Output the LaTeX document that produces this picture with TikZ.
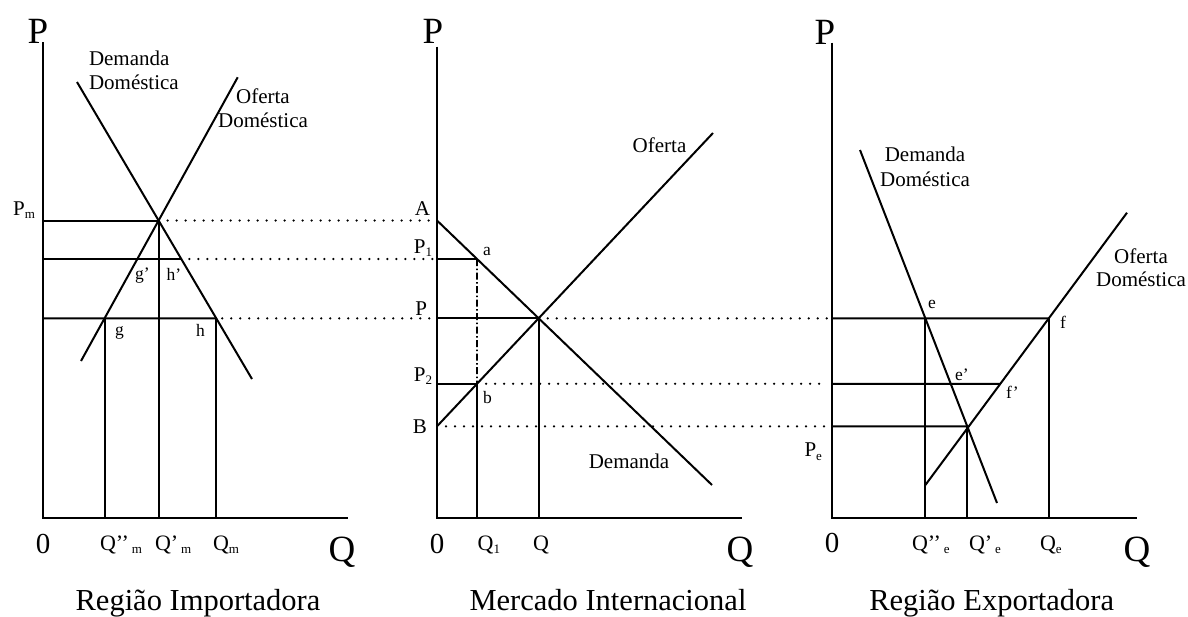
\documentclass[tikz,border=0pt]{standalone}
\usepackage{fontspec}
\setmainfont{Liberation Serif}
\newcommand\fBig{\fontsize{37}{37}\selectfont}
\newcommand\fZero{\fontsize{29}{29}\selectfont}
\newcommand\fTick{\fontsize{22}{22}\selectfont}
\newcommand\fAx{\fontsize{21}{21}\selectfont}
\newcommand\fSub{\fontsize{13}{13}\selectfont}
\newcommand\fPt{\fontsize{17.5}{17.5}\selectfont}
\newcommand\fCrv{\fontsize{21}{21}\selectfont}
\newcommand\fTitle{\fontsize{30.5}{30.5}\selectfont}
\newcommand\lowsub[1]{\raisebox{-3.5pt}{\fSub #1}}
\begin{document}
\begin{tikzpicture}[x=1pt,y=-1pt,
  ax/.style={line width=2pt},
  crv/.style={line width=2pt},
  guide/.style={line width=2pt},
  dots/.style={line width=2.5pt, line cap=round, dash pattern=on 0pt off 9pt},
  dashdot/.style={line width=1.6pt, dash pattern=on 7pt off 2.5pt on 1.5pt off 2.5pt},
  lbl/.style={inner sep=0pt, outer sep=0pt},
]
\useasboundingbox[fill=white] (0,0) rectangle (1188,616);

% ---------------- left panel: Regiao Importadora
\coordinate (O1) at (42.5,517.5);
\coordinate (T1) at (42.5,42);
\coordinate (X1) at (348,517.5);
\coordinate (d1a) at (77,82);
\coordinate (d1b) at (252,379);
\coordinate (s1a) at (237.7,77.3);
\coordinate (s1b) at (81,361);
\coordinate (E1) at (intersection of d1a--d1b and s1a--s1b);

% ---------------- middle panel: Mercado Internacional
\coordinate (O2) at (437,517.5);
\coordinate (T2) at (437,46.5);
\coordinate (X2) at (742,517.5);
\coordinate (A) at (O2 |- E1);
\coordinate (d2b) at (712,485);
% right panel curves (needed for B)
\coordinate (d3a) at (860,150);
\coordinate (d3b) at (997,503);
\coordinate (s3a) at (1127,212.7);
\coordinate (s3bt) at (923.3,485);
\coordinate (E3t) at (intersection of d3a--d3b and s3a--s3bt);
\coordinate (B) at (O2 |- E3t);
\coordinate (s2b) at (713,133);
\coordinate (E2) at (intersection of A--d2b and B--s2b);
\coordinate (L2a) at (0,259);
\coordinate (L2b) at (437,259);
\coordinate (a) at (intersection of A--d2b and L2a--L2b);
\coordinate (aB) at (a |- O2);
\coordinate (b) at (intersection of B--s2b and a--aB);

% left levels
\coordinate (L3a) at (O1 |- E2);
\coordinate (hp) at (intersection of d1a--d1b and L2a--L2b);
\coordinate (gp) at (intersection of s1a--s1b and L2a--L2b);
\coordinate (h) at (intersection of d1a--d1b and L3a--E2);
\coordinate (g) at (intersection of s1a--s1b and L3a--E2);

% right panel
\coordinate (O3) at (832,517.5);
\coordinate (T3) at (832,42.5);
\coordinate (X3) at (1137,517.5);
\coordinate (RP) at (O3 |- E2);
\coordinate (e) at (intersection of d3a--d3b and E2--RP);
\coordinate (s3b) at (e |- s3bt);
\coordinate (f) at (intersection of s3a--s3b and E2--RP);
\coordinate (RB2) at (O3 |- b);
\coordinate (fp) at (intersection of s3a--s3b and b--RB2);
\coordinate (RB) at (O3 |- B);
\coordinate (E3) at (intersection of d3a--d3b and B--RB);

% ---- axes
\draw[ax] (T1) -- (O1) -- (X1);
\draw[ax] (T2) -- (O2) -- (X2);
\draw[ax] (T3) -- (O3) -- (X3);

% ---- left panel lines
\draw[crv] (d1a) -- (d1b);
\draw[crv] (s1a) -- (s1b);
\draw[guide] (O1 |- E1) -- (E1);
\draw[guide] (O1 |- hp) -- (hp);
\draw[guide] (L3a) -- (h);
\draw[guide] (g) -- (g |- O1);
\draw[guide] (E1) -- (E1 |- O1);
\draw[guide] (h) -- (h |- O1);

% ---- middle panel lines
\draw[crv] (A) -- (d2b);
\draw[crv] (B) -- (s2b);
\draw[guide] (O2 |- a) -- (a);
\draw[guide] (O2 |- E2) -- (E2);
\draw[guide] (O2 |- b) -- (b);
\draw[dashdot] (a) -- (b);
\draw[guide] (b) -- (b |- O2);
\draw[guide] (E2) -- (E2 |- O2);

% ---- right panel lines
\draw[crv] (d3a) -- (d3b);
\draw[crv] (s3a) -- (s3b);
\draw[guide] (RP) -- (f);
\draw[guide] (RB2) -- (fp);
\draw[guide] (RB) -- (E3);
\draw[guide] (e) -- (e |- O3);
\draw[guide] (E3) -- (E3 |- O3);
\draw[guide] (f) -- (f |- O3);

% ---- dotted links
\draw[dots] ([xshift=9pt]E1) -- ([xshift=-4pt]A);
\draw[dots] ([xshift=8pt]hp) -- ([xshift=-4pt]O2 |- a);
\draw[dots] ([xshift=6pt]h) -- ([xshift=-4pt]O2 |- E2);
\draw[dots] ([xshift=9pt]E2) -- ([xshift=-4pt]RP);
\draw[dots] ([xshift=9pt]b) -- ([xshift=-4pt]RB2);
\draw[dots] ([xshift=9pt]B) -- ([xshift=-4pt]RB);

% ---- axis titles
\node[lbl, anchor=base] (P1ax) at (38,43) {\fBig P};
\node[lbl, anchor=base] (P2ax) at (433,43) {\fBig P};
\node[lbl, anchor=base] (P3ax) at (825,44) {\fBig P};
\node[lbl, anchor=base] (Q1ax) at (342,561) {\fBig Q};
\node[lbl, anchor=base] (Q2ax) at (740,561) {\fBig Q};
\node[lbl, anchor=base] (Q3ax) at (1137,561) {\fBig Q};
\node[lbl, anchor=base] (Z1) at (43,553) {\fZero 0};
\node[lbl, anchor=base] (Z2) at (437,553) {\fZero 0};
\node[lbl, anchor=base] (Z3) at (832,552) {\fZero 0};

% ---- quantity ticks
\node[lbl, anchor=base west] (tQmpp) at (100,550) {\fTick Q’’\hspace{3pt}\lowsub{m}};
\node[lbl, anchor=base west] (tQmp) at (155,550) {\fTick Q’\hspace{3pt}\lowsub{m}};
\node[lbl, anchor=base west] (tQm) at (213,550) {\fTick Q\lowsub{m}};
\node[lbl, anchor=base west] (tQ1) at (477.7,550) {\fTick Q\lowsub{1}};
\node[lbl, anchor=base] (tQ) at (541,550) {\fTick Q};
\node[lbl, anchor=base west] (tQepp) at (912,550) {\fTick Q’’\hspace{3pt}\lowsub{e}};
\node[lbl, anchor=base west] (tQep) at (969,550) {\fTick Q’\hspace{3pt}\lowsub{e}};
\node[lbl, anchor=base west] (tQe) at (1040,550) {\fTick Q\lowsub{e}};

% ---- price ticks
\node[lbl, anchor=base east] (tPm) at (35,215) {\fAx P\lowsub{m}};
\node[lbl, anchor=base east] (tA) at (430,215) {\fAx A};
\node[lbl, anchor=base east] (tP1) at (432,253) {\fAx P\lowsub{1}};
\node[lbl, anchor=base east] (tP) at (427,315) {\fAx P};
\node[lbl, anchor=base east] (tP2) at (432,381) {\fAx P\lowsub{2}};
\node[lbl, anchor=base east] (tB) at (427,433) {\fAx B};
\node[lbl, anchor=base east] (tPe) at (822,456.7) {\fAx P\lowsub{e}};

% ---- point labels
\node[lbl, anchor=base west] (lgp) at (135,279) {\fPt g’};
\node[lbl, anchor=base west] (lhp) at (166.7,280) {\fPt h’};
\node[lbl, anchor=base west] (lg) at (115,335) {\fPt g};
\node[lbl, anchor=base west] (lh) at (196,336) {\fPt h};
\node[lbl, anchor=base west] (la) at (483,255) {\fPt a};
\node[lbl, anchor=base west] (lb) at (483,403) {\fPt b};
\node[lbl, anchor=base west] (le) at (928,308) {\fPt e};
\node[lbl, anchor=base west] (lf) at (1060,328) {\fPt f};
\node[lbl, anchor=base west] (lep) at (955,380) {\fPt e’};
\node[lbl, anchor=base west] (lfp) at (1006,398) {\fPt f’};

% ---- curve labels
\node[lbl, anchor=base west] (cDL1) at (89,65) {\fCrv Demanda};
\node[lbl, anchor=base west] (cDL2) at (89,89) {\fCrv Doméstica};
\node[lbl, anchor=base] (cOL1) at (263,103) {\fCrv Oferta};
\node[lbl, anchor=base] (cOL2) at (263,127) {\fCrv Doméstica};
\node[lbl, anchor=base] (cOM) at (659.5,152) {\fCrv Oferta};
\node[lbl, anchor=base] (cDM) at (629,468) {\fCrv Demanda};
\node[lbl, anchor=base] (cDR1) at (925,161.7) {\fCrv Demanda};
\node[lbl, anchor=base] (cDR2) at (925,186) {\fCrv Doméstica};
\node[lbl, anchor=base] (cOR1) at (1141,263) {\fCrv Oferta};
\node[lbl, anchor=base] (cOR2) at (1141,286.7) {\fCrv Doméstica};

% ---- titles
\node[lbl, anchor=base] (tit1) at (198,610) {\fTitle Região Importadora};
\node[lbl, anchor=base] (tit2) at (608,610) {\fTitle Mercado Internacional};
\node[lbl, anchor=base] (tit3) at (991.7,610) {\fTitle Região Exportadora};
\end{tikzpicture}
\end{document}
